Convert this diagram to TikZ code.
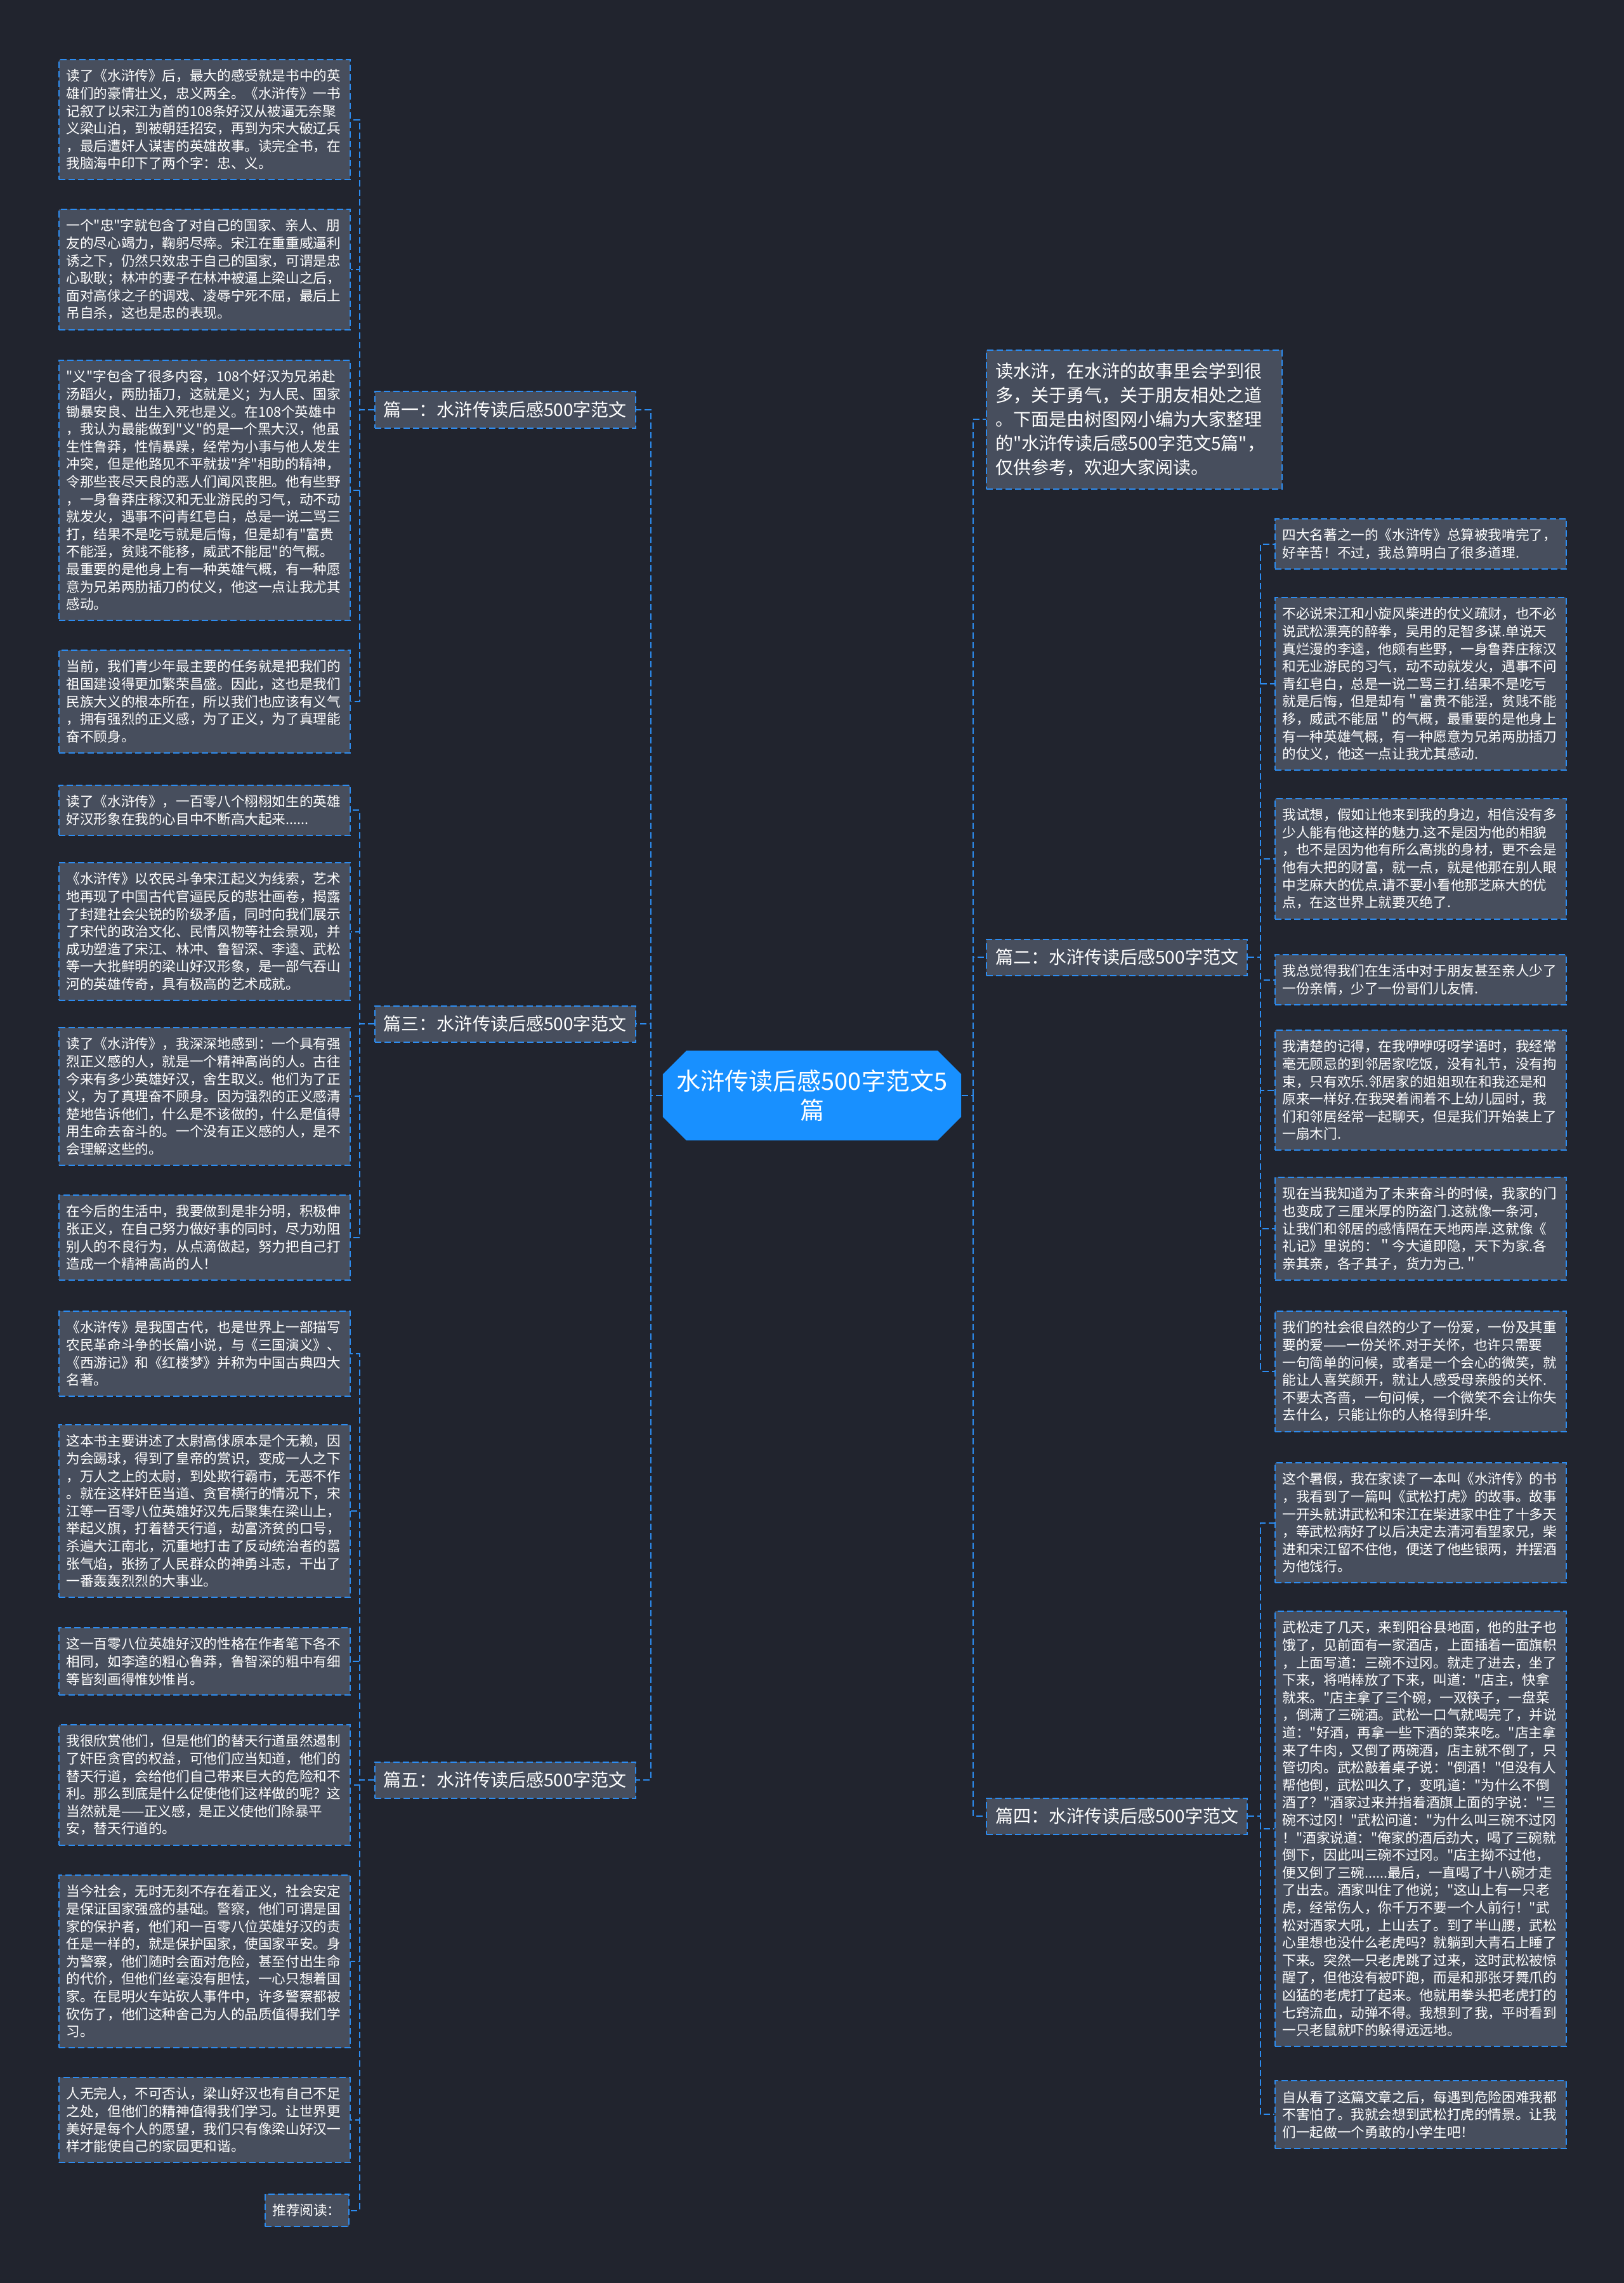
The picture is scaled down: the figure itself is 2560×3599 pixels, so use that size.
\documentclass[tikz,border=0pt]{standalone}
\usepackage{fontspec}
\newfontfamily\cjk{Noto Sans CJK SC}
\usepackage{tikz}
\usetikzlibrary{shapes.misc, positioning}

\definecolor{bgdark}{HTML}{21242E}
\definecolor{boxgray}{HTML}{474E5D}
\definecolor{lineblue}{HTML}{2D8CF0}
\definecolor{rootblue}{HTML}{1890FF}

\tikzstyle{leaf} = [
  rectangle, draw=lineblue, fill=boxgray, line width=0.02cm,
  dash pattern=on 0.1cm off 0.05cm, text=white, align=left,
  text width=4.36cm, inner xsep=0.115cm, inner ysep=0.155cm,
  anchor=north west, font=\cjk\fontsize{6.15pt}{7.85pt}\selectfont
]
\tikzstyle{intro} = [leaf, text width=4.38cm, inner xsep=0.14cm, inner ysep=0.2cm,
  font=\cjk\fontsize{7.97pt}{10.8pt}\selectfont]
\tikzstyle{branch} = [
  rectangle, draw=lineblue, fill=boxgray, line width=0.02cm,
  dash pattern=on 0.1cm off 0.05cm, text=white,
  minimum width=4.11cm, minimum height=0.57cm, inner sep=0.1cm,
  font=\cjk\fontsize{7.97pt}{9pt}\selectfont
]
\tikzstyle{root} = [
  chamfered rectangle, chamfered rectangle xsep=0.12cm, chamfered rectangle ysep=0.25cm,
  fill=rootblue, text=white, align=center, inner sep=0.05cm,
  minimum width=4.7cm, minimum height=1.25cm,
  font=\cjk\fontsize{10.8pt}{13.1pt}\selectfont
]
\tikzstyle{link} = [draw=lineblue, line width=0.02cm, dash pattern=on 0.1cm off 0.05cm]

\begin{document}
\begin{tikzpicture}[x=0.01cm, y=-0.01cm]

  \fill[bgdark] (0,0) rectangle (2560,3599);
  \useasboundingbox (0,0) rectangle (2560,3599);

  % Root and branches
  \node[root] (root) at (1280,1727) {水浒传读后感500字范文5\\篇};
  \node[branch, anchor=east] (b1) at (1003,646) {篇一：水浒传读后感500字范文};
  \node[branch, anchor=east] (b3) at (1003,1614) {篇三：水浒传读后感500字范文};
  \node[branch, anchor=east] (b5) at (1003,2806) {篇五：水浒传读后感500字范文};
  \node[branch, anchor=west] (b2) at (1554,1509) {篇二：水浒传读后感500字范文};
  \node[branch, anchor=west] (b4) at (1554,2863) {篇四：水浒传读后感500字范文};
  \node[intro] (intro) at (1554,551) {读水浒，在水浒的故事里会学到很\\
多，关于勇气，关于朋友相处之道\\
。下面是由树图网小编为大家整理\\
的"水浒传读后感500字范文5篇"，\\
仅供参考，欢迎大家阅读。};

  % Left leaves
  \node[leaf] (l1) at (92,93) {读了《水浒传》后，最大的感受就是书中的英\\
雄们的豪情壮义，忠义两全。《水浒传》一书\\
记叙了以宋江为首的108条好汉从被逼无奈聚\\
义梁山泊，到被朝廷招安，再到为宋大破辽兵\\
，最后遭奸人谋害的英雄故事。读完全书，在\\
我脑海中印下了两个字：忠、义。};
  \node[leaf] (l2) at (92,329) {一个"忠"字就包含了对自己的国家、亲人、朋\\
友的尽心竭力，鞠躬尽瘁。宋江在重重威逼利\\
诱之下，仍然只效忠于自己的国家，可谓是忠\\
心耿耿；林冲的妻子在林冲被逼上梁山之后，\\
面对高俅之子的调戏、凌辱宁死不屈，最后上\\
吊自杀，这也是忠的表现。};
  \node[leaf] (l3) at (92,567) {"义"字包含了很多内容，108个好汉为兄弟赴\\
汤蹈火，两肋插刀，这就是义；为人民、国家\\
锄暴安良、出生入死也是义。在108个英雄中\\
，我认为最能做到"义"的是一个黑大汉，他虽\\
生性鲁莽，性情暴躁，经常为小事与他人发生\\
冲突，但是他路见不平就拔"斧"相助的精神，\\
令那些丧尽天良的恶人们闻风丧胆。他有些野\\
，一身鲁莽庄稼汉和无业游民的习气，动不动\\
就发火，遇事不问青红皂白，总是一说二骂三\\
打，结果不是吃亏就是后悔，但是却有"富贵\\
不能淫，贫贱不能移，威武不能屈"的气概。\\
最重要的是他身上有一种英雄气概，有一种愿\\
意为兄弟两肋插刀的仗义，他这一点让我尤其\\
感动。};
  \node[leaf] (l4) at (92,1024) {当前，我们青少年最主要的任务就是把我们的\\
祖国建设得更加繁荣昌盛。因此，这也是我们\\
民族大义的根本所在，所以我们也应该有义气\\
，拥有强烈的正义感，为了正义，为了真理能\\
奋不顾身。};
  \node[leaf] (l5) at (92,1237) {读了《水浒传》，一百零八个栩栩如生的英雄\\
好汉形象在我的心目中不断高大起来......};
  \node[leaf] (l6) at (92,1359) {《水浒传》以农民斗争宋江起义为线索，艺术\\
地再现了中国古代官逼民反的悲壮画卷，揭露\\
了封建社会尖锐的阶级矛盾，同时向我们展示\\
了宋代的政治文化、民情风物等社会景观，并\\
成功塑造了宋江、林冲、鲁智深、李逵、武松\\
等一大批鲜明的梁山好汉形象，是一部气吞山\\
河的英雄传奇，具有极高的艺术成就。};
  \node[leaf] (l7) at (92,1619) {读了《水浒传》，我深深地感到：一个具有强\\
烈正义感的人，就是一个精神高尚的人。古往\\
今来有多少英雄好汉，舍生取义。他们为了正\\
义，为了真理奋不顾身。因为强烈的正义感清\\
楚地告诉他们，什么是不该做的，什么是值得\\
用生命去奋斗的。一个没有正义感的人，是不\\
会理解这些的。};
  \node[leaf] (l8) at (92,1883) {在今后的生活中，我要做到是非分明，积极伸\\
张正义，在自己努力做好事的同时，尽力劝阻\\
别人的不良行为，从点滴做起，努力把自己打\\
造成一个精神高尚的人！};
  \node[leaf] (l9) at (92,2066) {《水浒传》是我国古代，也是世界上一部描写\\
农民革命斗争的长篇小说，与《三国演义》、\\
《西游记》和《红楼梦》并称为中国古典四大\\
名著。};
  \node[leaf] (l10) at (92,2245) {这本书主要讲述了太尉高俅原本是个无赖，因\\
为会踢球，得到了皇帝的赏识，变成一人之下\\
，万人之上的太尉，到处欺行霸市，无恶不作\\
。就在这样奸臣当道、贪官横行的情况下，宋\\
江等一百零八位英雄好汉先后聚集在梁山上，\\
举起义旗，打着替天行道，劫富济贫的口号，\\
杀遍大江南北，沉重地打击了反动统治者的嚣\\
张气焰，张扬了人民群众的神勇斗志，干出了\\
一番轰轰烈烈的大事业。};
  \node[leaf] (l11) at (92,2565) {这一百零八位英雄好汉的性格在作者笔下各不\\
相同，如李逵的粗心鲁莽，鲁智深的粗中有细\\
等皆刻画得惟妙惟肖。};
  \node[leaf] (l12) at (92,2718) {我很欣赏他们，但是他们的替天行道虽然遏制\\
了奸臣贪官的权益，可他们应当知道，他们的\\
替天行道，会给他们自己带来巨大的危险和不\\
利。那么到底是什么促使他们这样做的呢？这\\
当然就是——正义感，是正义使他们除暴平\\
安，替天行道的。};
  \node[leaf] (l13) at (92,2955) {当今社会，无时无刻不存在着正义，社会安定\\
是保证国家强盛的基础。警察，他们可谓是国\\
家的保护者，他们和一百零八位英雄好汉的责\\
任是一样的，就是保护国家，使国家平安。身\\
为警察，他们随时会面对危险，甚至付出生命\\
的代价，但他们丝毫没有胆怯，一心只想着国\\
家。在昆明火车站砍人事件中，许多警察都被\\
砍伤了，他们这种舍己为人的品质值得我们学\\
习。};
  \node[leaf] (l14) at (92,3274) {人无完人，不可否认，梁山好汉也有自己不足\\
之处，但他们的精神值得我们学习。让世界更\\
美好是每个人的愿望，我们只有像梁山好汉一\\
样才能使自己的家园更和谐。};
  \node[leaf, anchor=north east, text width=1.09cm] (l15) at (551,3458) {推荐阅读：};

  % Right leaves
  \node[leaf] (r1) at (2009,817) {四大名著之一的《水浒传》总算被我啃完了，\\
好辛苦！不过，我总算明白了很多道理.};
  \node[leaf] (r2) at (2009,941) {不必说宋江和小旋风柴进的仗义疏财，也不必\\
说武松漂亮的醉拳，吴用的足智多谋.单说天\\
真烂漫的李逵，他颇有些野，一身鲁莽庄稼汉\\
和无业游民的习气，动不动就发火，遇事不问\\
青红皂白，总是一说二骂三打.结果不是吃亏\\
就是后悔，但是却有＂富贵不能淫，贫贱不能\\
移，威武不能屈＂的气概，最重要的是他身上\\
有一种英雄气概，有一种愿意为兄弟两肋插刀\\
的仗义，他这一点让我尤其感动.};
  \node[leaf] (r3) at (2009,1258) {我试想，假如让他来到我的身边，相信没有多\\
少人能有他这样的魅力.这不是因为他的相貌\\
，也不是因为他有所么高挑的身材，更不会是\\
他有大把的财富，就一点，就是他那在别人眼\\
中芝麻大的优点.请不要小看他那芝麻大的优\\
点，在这世界上就要灭绝了.};
  \node[leaf] (r4) at (2009,1504) {我总觉得我们在生活中对于朋友甚至亲人少了\\
一份亲情，少了一份哥们儿友情.};
  \node[leaf] (r5) at (2009,1623) {我清楚的记得，在我咿咿呀呀学语时，我经常\\
毫无顾忌的到邻居家吃饭，没有礼节，没有拘\\
束，只有欢乐.邻居家的姐姐现在和我还是和\\
原来一样好.在我哭着闹着不上幼儿园时，我\\
们和邻居经常一起聊天，但是我们开始装上了\\
一扇木门.};
  \node[leaf] (r6) at (2009,1855) {现在当我知道为了未来奋斗的时候，我家的门\\
也变成了三厘米厚的防盗门.这就像一条河，\\
让我们和邻居的感情隔在天地两岸.这就像《\\
礼记》里说的：＂今大道即隐，天下为家.各\\
亲其亲，各子其子，货力为己.＂};
  \node[leaf] (r7) at (2009,2066) {我们的社会很自然的少了一份爱，一份及其重\\
要的爱——一份关怀.对于关怀，也许只需要\\
一句简单的问候，或者是一个会心的微笑，就\\
能让人喜笑颜开，就让人感受母亲般的关怀.\\
不要太吝啬，一句问候，一个微笑不会让你失\\
去什么，只能让你的人格得到升华.};
  \node[leaf] (r8) at (2009,2305) {这个暑假，我在家读了一本叫《水浒传》的书\\
，我看到了一篇叫《武松打虎》的故事。故事\\
一开头就讲武松和宋江在柴进家中住了十多天\\
，等武松病好了以后决定去清河看望家兄，柴\\
进和宋江留不住他，便送了他些银两，并摆酒\\
为他饯行。};
  \node[leaf] (r9) at (2009,2539) {武松走了几天，来到阳谷县地面，他的肚子也\\
饿了，见前面有一家酒店，上面插着一面旗帜\\
，上面写道：三碗不过冈。就走了进去，坐了\\
下来，将哨棒放了下来，叫道："店主，快拿\\
就来。"店主拿了三个碗，一双筷子，一盘菜\\
，倒满了三碗酒。武松一口气就喝完了，并说\\
道："好酒，再拿一些下酒的菜来吃。"店主拿\\
来了牛肉，又倒了两碗酒，店主就不倒了，只\\
管切肉。武松敲着桌子说："倒酒！"但没有人\\
帮他倒，武松叫久了，变吼道："为什么不倒\\
酒了？"酒家过来并指着酒旗上面的字说："三\\
碗不过冈！"武松问道："为什么叫三碗不过冈\\
！"酒家说道："俺家的酒后劲大，喝了三碗就\\
倒下，因此叫三碗不过冈。"店主拗不过他，\\
便又倒了三碗......最后，一直喝了十八碗才走\\
了出去。酒家叫住了他说；"这山上有一只老\\
虎，经常伤人，你千万不要一个人前行！"武\\
松对酒家大吼，上山去了。到了半山腰，武松\\
心里想也没什么老虎吗？就躺到大青石上睡了\\
下来。突然一只老虎跳了过来，这时武松被惊\\
醒了，但他没有被吓跑，而是和那张牙舞爪的\\
凶猛的老虎打了起来。他就用拳头把老虎打的\\
七窍流血，动弹不得。我想到了我，平时看到\\
一只老鼠就吓的躲得远远地。};
  \node[leaf] (r10) at (2009,3279) {自从看了这篇文章之后，每遇到危险困难我都\\
不害怕了。我就会想到武松打虎的情景。让我\\
们一起做一个勇敢的小学生吧！};

  % Links
  \coordinate (lhub) at (1026,1727);
  \coordinate (rhub) at (1534,1727);
  \draw[link] (root.west) -- (lhub);
  \draw[link] (root.east) -- (rhub);
  \foreach \b in {b1,b3,b5}
    \draw[link] (lhub) |- (\b.east);
  \foreach \b in {intro,b2,b4}
    \draw[link] (rhub) |- (\b.west);

  \foreach \l in {l1,l2,l3,l4}
    \draw[link] (b1.west) -- ++(-23,0) |- (\l.east);
  \foreach \l in {l5,l6,l7,l8}
    \draw[link] (b3.west) -- ++(-23,0) |- (\l.east);
  \foreach \l in {l9,l10,l11,l12,l13,l14,l15}
    \draw[link] (b5.west) -- ++(-23,0) |- (\l.east);
  \foreach \r in {r1,r2,r3,r4,r5,r6,r7}
    \draw[link] (b2.east) -- ++(20,0) |- (\r.west);
  \foreach \r in {r8,r9,r10}
    \draw[link] (b4.east) -- ++(20,0) |- (\r.west);

\end{tikzpicture}
\end{document}
